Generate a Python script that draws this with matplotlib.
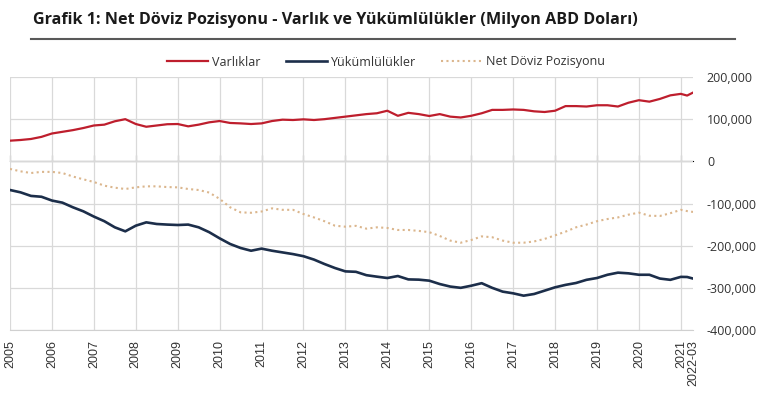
import numpy as np
import matplotlib
matplotlib.use("Agg")
import matplotlib.pyplot as plt
from matplotlib.lines import Line2D

# quarterly readings (decimal year), last two points = late 2021 .. 2022-03 end
dates = [2005.0, 2005.25, 2005.5, 2005.75, 2006.0, 2006.25, 2006.5, 2006.75,
         2007.0, 2007.25, 2007.5, 2007.75, 2008.0, 2008.25, 2008.5, 2008.75,
         2009.0, 2009.25, 2009.5, 2009.75, 2010.0, 2010.25, 2010.5, 2010.75,
         2011.0, 2011.25, 2011.5, 2011.75, 2012.0, 2012.25, 2012.5, 2012.75,
         2013.0, 2013.25, 2013.5, 2013.75, 2014.0, 2014.25, 2014.5, 2014.75,
         2015.0, 2015.25, 2015.5, 2015.75, 2016.0, 2016.25, 2016.5, 2016.75,
         2017.0, 2017.25, 2017.5, 2017.75, 2018.0, 2018.25, 2018.5, 2018.75,
         2019.0, 2019.25, 2019.5, 2019.75, 2020.0, 2020.25, 2020.5, 2020.75,
         2021.0, 2021.15, 2021.29]

# Varlıklar (milyon ABD doları)
varliklar = [49000, 50600, 53000, 58000, 66000, 70000, 74000, 79000,
             85000, 87000, 95000, 100000, 88500, 82000, 85000, 88000,
             88500, 83000, 87000, 92500, 95600, 91000, 90000, 88500,
             90000, 95600, 98800, 98000, 99600, 98000, 100000, 103000,
             106000, 109000, 112000, 114000, 120000, 108000, 115000, 112000,
             107500, 112000, 106000, 104000, 108000, 114000, 122000, 122000,
             123000, 122000, 118600, 117000, 120000, 131000, 131000, 130000,
             133000, 133000, 130000, 139000, 145000, 141500, 148000, 156500,
             160000, 156000, 163000]

# Yükümlülükler
yukumlulukler = [-68000, -73500, -82000, -84000, -93000, -98000, -109000, -118600,
                 -131000, -142000, -156500, -166000, -152600, -144700, -148600, -150000,
                 -151000, -150000, -156500, -168000, -182600, -196000, -205500, -212000,
                 -207000, -212000, -216000, -220000, -225000, -233000, -243500, -253000,
                 -261000, -262000, -270000, -273500, -276700, -272000, -280000, -280600,
                 -283000, -291000, -297000, -300000, -295000, -289000, -300000, -309000,
                 -313000, -318600, -314600, -306700, -298800, -293000, -288500, -281000,
                 -276700, -269000, -264000, -265600, -269000, -269000, -278000, -281000,
                 -274000, -274300, -278000]

# Net Döviz Pozisyonu
net_pozisyon = [-18000, -23700, -27700, -25000, -25000, -27700, -36000, -42700,
                -49000, -57700, -62500, -65600, -61700, -59300, -59300, -61000,
                -61700, -65600, -68000, -74000, -89000, -109000, -121000, -122000,
                -119000, -111500, -115000, -115000, -125000, -133000, -142000, -152600,
                -155000, -153000, -159700, -156500, -158000, -162800, -162800, -165000,
                -168000, -177000, -188000, -193000, -186600, -178000, -180000, -188000,
                -193000, -193000, -190000, -184000, -175500, -166800, -156500, -150000,
                -142000, -136800, -133000, -126500, -121700, -129000, -129600, -123000,
                -115000, -118000, -120000]

year_ticks = list(range(2005, 2022))
year_labels = [str(y) for y in year_ticks]
last_label = "2022-03"
y_ticks = [200000, 100000, 0, -100000, -200000, -300000, -400000]

title = "Grafik 1: Net Döviz Pozisyonu - Varlık ve Yükümlülükler (Milyon ABD Doları)"

fig = plt.figure(figsize=(7.68, 3.96), dpi=100)
ax = fig.add_axes([10/768, 1-330/396, (693-10)/768, (330-77)/396])

l1, = ax.plot(dates, varliklar, color="#be1e2d", lw=1.6, label="Varlıklar")
l2, = ax.plot(dates, yukumlulukler, color="#1c2e4a", lw=1.9, label="Yükümlülükler")
l3, = ax.plot(dates, net_pozisyon, color="#dbb68d", lw=1.5, dashes=(1, 1.6),
              label="Net Döviz Pozisyonu")

ax.set_xlim(2005, 2021.29)
ax.set_ylim(-400000, 200000)
ax.set_xticks(year_ticks)
ax.set_xticks([2021.29], minor=True)
ax.set_xticklabels(year_labels, rotation=90, fontsize=9, family="Liberation Sans", color="#333333")
ax.set_xticklabels([last_label], minor=True, rotation=90, fontsize=9,
                   family="Liberation Sans", color="#333333")
ax.tick_params(axis="x", which="both", length=0, pad=7)

ax.set_yticks(y_ticks)
ax.set_yticklabels([f"{v:,}" for v in y_ticks], fontsize=9, family="Open Sans", color="#333333")
ax.yaxis.tick_right()
ax.tick_params(axis="y", length=0, pad=10)

ax.grid(True, which="major", color="#d9d9d9", lw=0.9)
ax.set_axisbelow(True)
for s in ["top", "left", "right"]:
    ax.spines[s].set_visible(False)
ax.spines["bottom"].set_color("#d0d0d0")

# zero line with small tick marks, like the category axis crossing at 0
loc0 = (0 - ax.get_ylim()[0]) / (ax.get_ylim()[1] - ax.get_ylim()[0])
sec = ax.secondary_xaxis(loc0)
sec.set_xticks(year_ticks)
sec.set_xticklabels([])
sec.tick_params(axis="x", direction="out", length=4, color="#a6a6a6", width=0.9)
sec.spines["bottom"].set_color("#a6a6a6")
sec.spines["bottom"].set_linewidth(1.0)

fig.text(33/768, 1-24/396, title, fontsize=11.6, fontweight="bold",
         family="Open Sans", color="#1a1a1a", va="baseline")
fig.add_artist(Line2D([31/768, 735/768], [1-39/396, 1-39/396],
                      transform=fig.transFigure, color="#595959", lw=1.5))

leg = fig.legend(handles=[l1, l2, l3], loc="center", bbox_to_anchor=(386/768, 1-62/396),
                 ncol=3, frameon=False, handlelength=3.3, handletextpad=0.3,
                 columnspacing=2.0, prop={"family": "Open Sans", "size": 9})
for t in leg.get_texts():
    t.set_color("#333333")

fig.savefig("out.png", dpi=100)
